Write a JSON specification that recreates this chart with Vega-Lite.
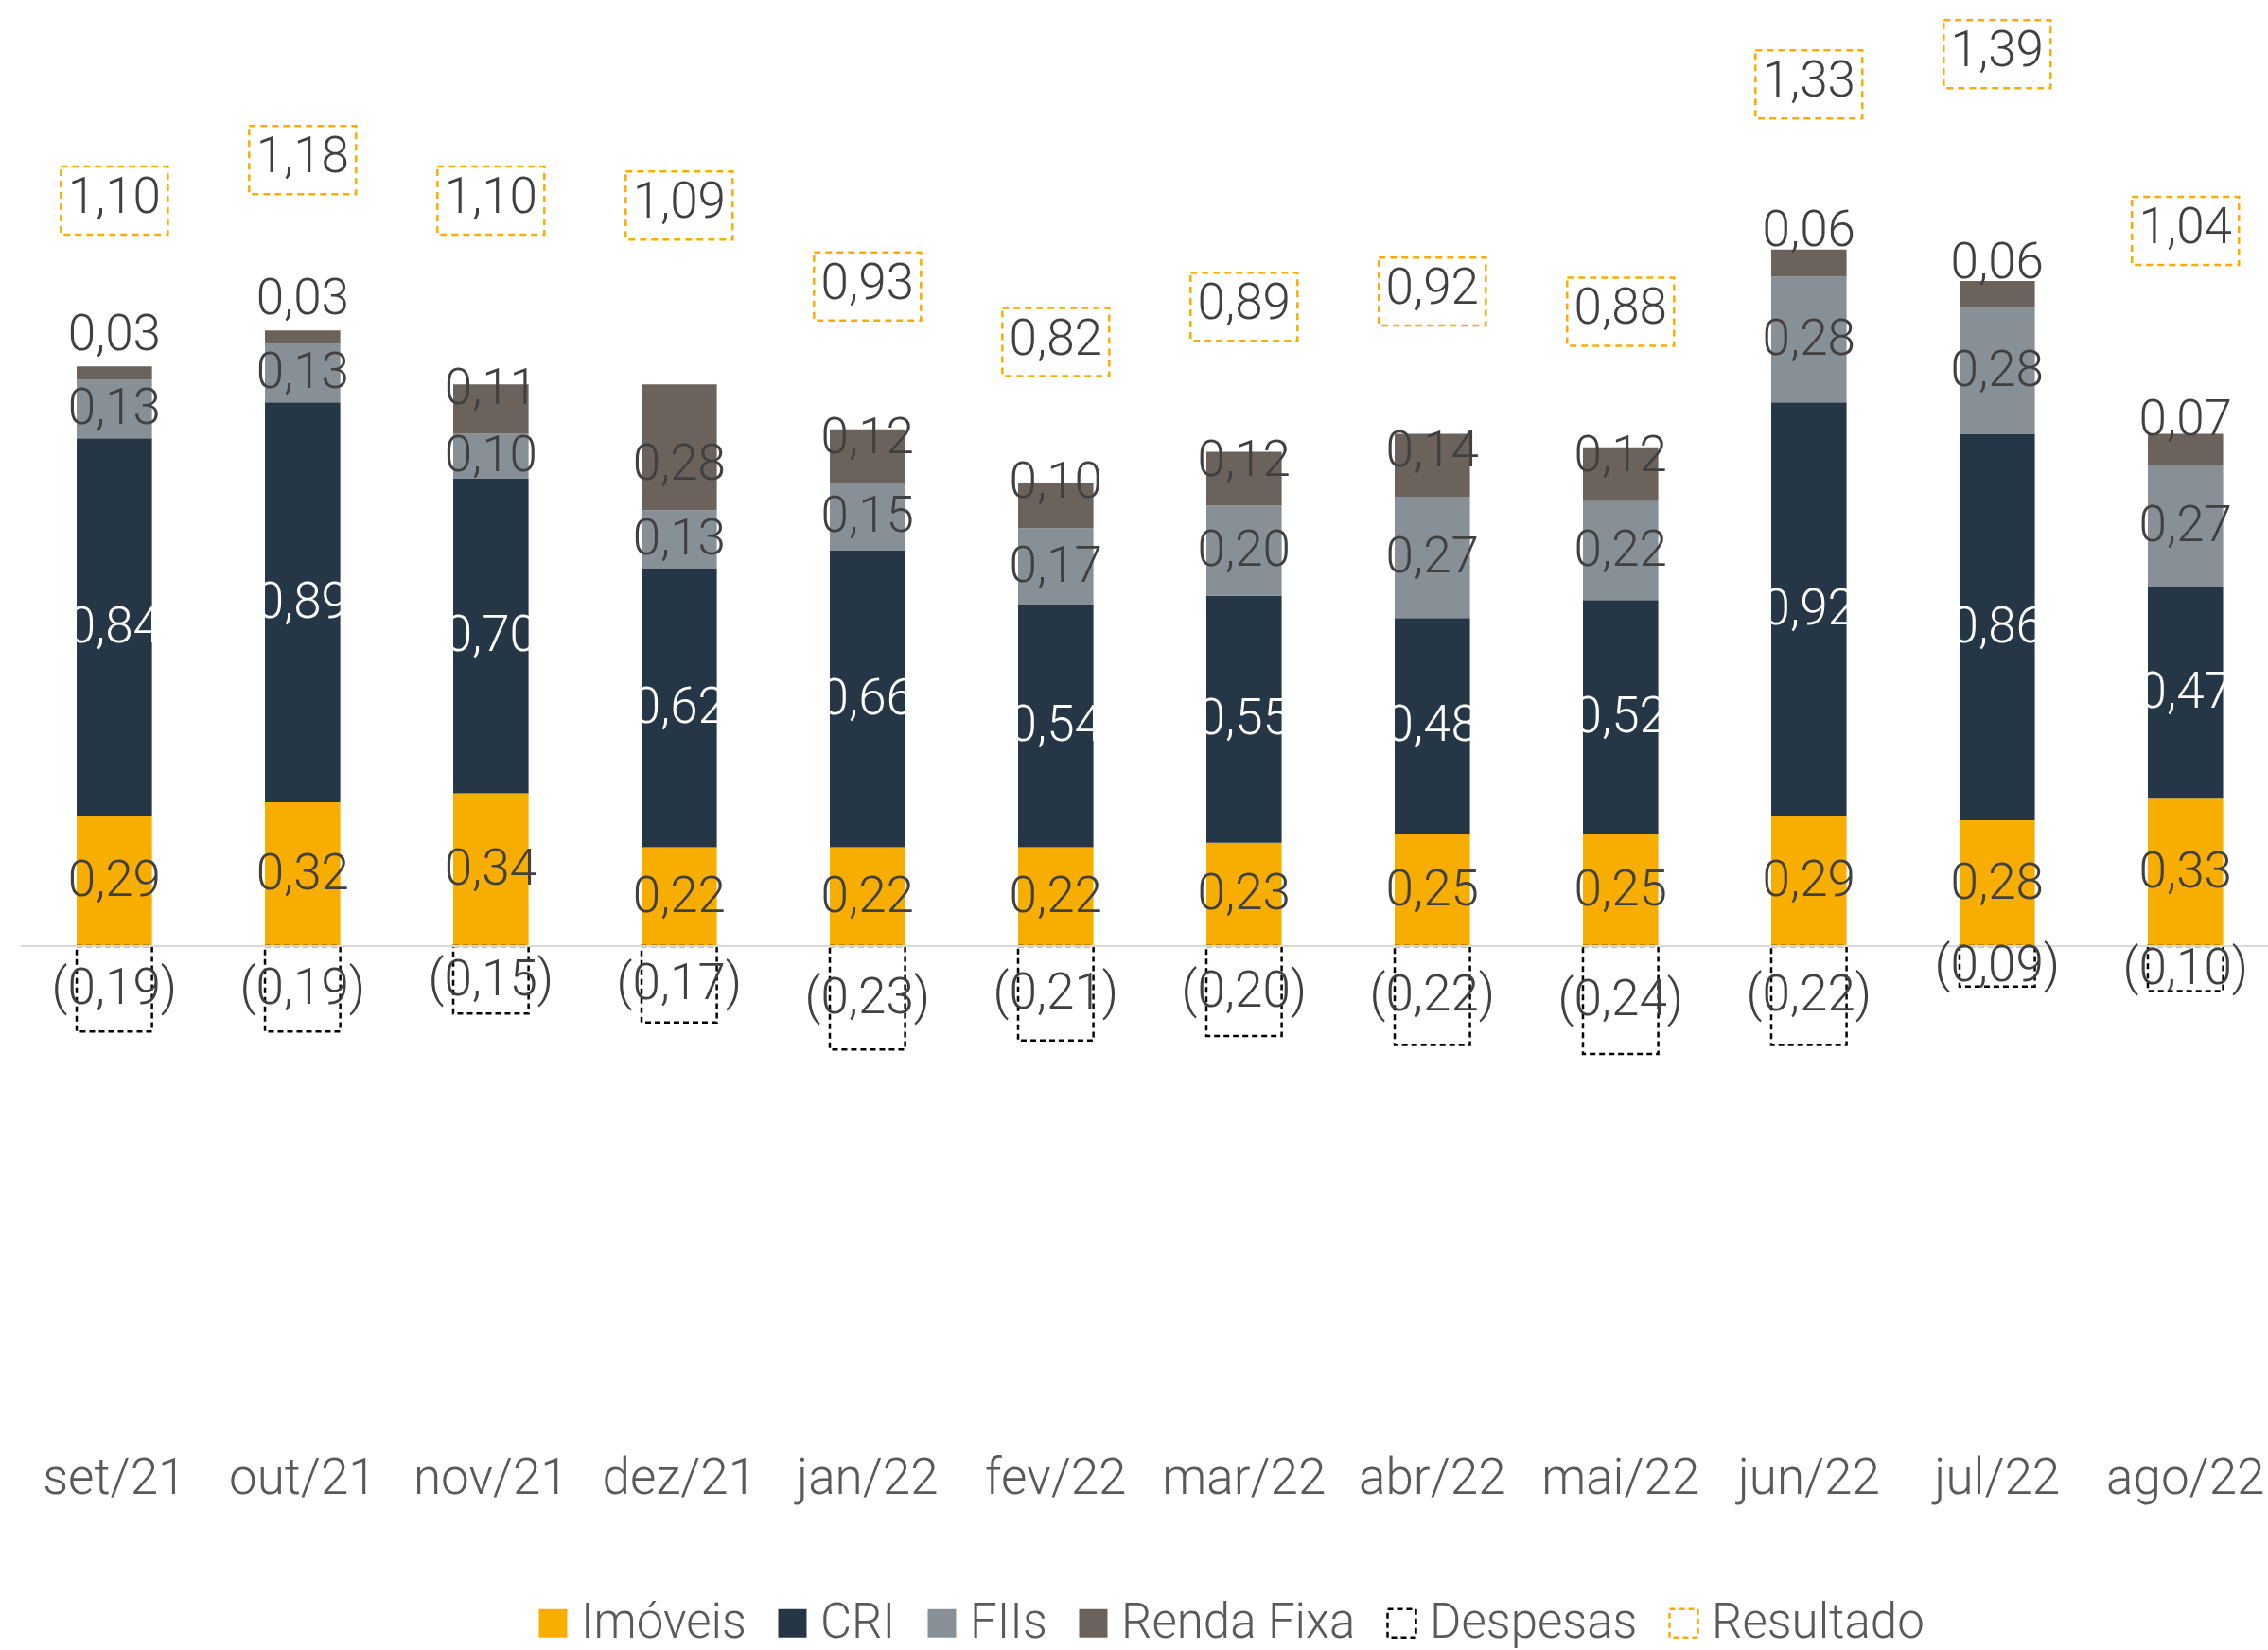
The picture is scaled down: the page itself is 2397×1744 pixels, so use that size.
{
  "$schema": "https://vega.github.io/schema/vega-lite/v6.json",
  "width": 2375,
  "height": 1500,
  "autosize": {"type": "none"},
  "padding": {"left": 22, "top": 0, "right": 0, "bottom": 244},
  "background": "white",
  "config": {
    "view": {"stroke": null},
    "font": "Roboto",
    "locale": {"number": {"decimal": ",", "thousands": ".", "grouping": [3], "currency": ["R$", ""]}}
  },
  "data": {
    "values": [
      {"mes": "set/21", "serie": "Imóveis", "ordem": 1, "valor": 0.29},
      {"mes": "set/21", "serie": "CRI", "ordem": 2, "valor": 0.84},
      {"mes": "set/21", "serie": "FIIs", "ordem": 3, "valor": 0.13},
      {"mes": "set/21", "serie": "Renda Fixa", "ordem": 4, "valor": 0.03},
      {"mes": "set/21", "serie": "Despesas", "ordem": 5, "valor": -0.19},
      {"mes": "set/21", "serie": "Resultado", "ordem": 6, "valor": 1.10},
      {"mes": "out/21", "serie": "Imóveis", "ordem": 1, "valor": 0.32},
      {"mes": "out/21", "serie": "CRI", "ordem": 2, "valor": 0.89},
      {"mes": "out/21", "serie": "FIIs", "ordem": 3, "valor": 0.13},
      {"mes": "out/21", "serie": "Renda Fixa", "ordem": 4, "valor": 0.03},
      {"mes": "out/21", "serie": "Despesas", "ordem": 5, "valor": -0.19},
      {"mes": "out/21", "serie": "Resultado", "ordem": 6, "valor": 1.18},
      {"mes": "nov/21", "serie": "Imóveis", "ordem": 1, "valor": 0.34},
      {"mes": "nov/21", "serie": "CRI", "ordem": 2, "valor": 0.70},
      {"mes": "nov/21", "serie": "FIIs", "ordem": 3, "valor": 0.10},
      {"mes": "nov/21", "serie": "Renda Fixa", "ordem": 4, "valor": 0.11},
      {"mes": "nov/21", "serie": "Despesas", "ordem": 5, "valor": -0.15},
      {"mes": "nov/21", "serie": "Resultado", "ordem": 6, "valor": 1.10},
      {"mes": "dez/21", "serie": "Imóveis", "ordem": 1, "valor": 0.22},
      {"mes": "dez/21", "serie": "CRI", "ordem": 2, "valor": 0.62},
      {"mes": "dez/21", "serie": "FIIs", "ordem": 3, "valor": 0.13},
      {"mes": "dez/21", "serie": "Renda Fixa", "ordem": 4, "valor": 0.28},
      {"mes": "dez/21", "serie": "Despesas", "ordem": 5, "valor": -0.17},
      {"mes": "dez/21", "serie": "Resultado", "ordem": 6, "valor": 1.09},
      {"mes": "jan/22", "serie": "Imóveis", "ordem": 1, "valor": 0.22},
      {"mes": "jan/22", "serie": "CRI", "ordem": 2, "valor": 0.66},
      {"mes": "jan/22", "serie": "FIIs", "ordem": 3, "valor": 0.15},
      {"mes": "jan/22", "serie": "Renda Fixa", "ordem": 4, "valor": 0.12},
      {"mes": "jan/22", "serie": "Despesas", "ordem": 5, "valor": -0.23},
      {"mes": "jan/22", "serie": "Resultado", "ordem": 6, "valor": 0.93},
      {"mes": "fev/22", "serie": "Imóveis", "ordem": 1, "valor": 0.22},
      {"mes": "fev/22", "serie": "CRI", "ordem": 2, "valor": 0.54},
      {"mes": "fev/22", "serie": "FIIs", "ordem": 3, "valor": 0.17},
      {"mes": "fev/22", "serie": "Renda Fixa", "ordem": 4, "valor": 0.10},
      {"mes": "fev/22", "serie": "Despesas", "ordem": 5, "valor": -0.21},
      {"mes": "fev/22", "serie": "Resultado", "ordem": 6, "valor": 0.82},
      {"mes": "mar/22", "serie": "Imóveis", "ordem": 1, "valor": 0.23},
      {"mes": "mar/22", "serie": "CRI", "ordem": 2, "valor": 0.55},
      {"mes": "mar/22", "serie": "FIIs", "ordem": 3, "valor": 0.20},
      {"mes": "mar/22", "serie": "Renda Fixa", "ordem": 4, "valor": 0.12},
      {"mes": "mar/22", "serie": "Despesas", "ordem": 5, "valor": -0.20},
      {"mes": "mar/22", "serie": "Resultado", "ordem": 6, "valor": 0.89},
      {"mes": "abr/22", "serie": "Imóveis", "ordem": 1, "valor": 0.25},
      {"mes": "abr/22", "serie": "CRI", "ordem": 2, "valor": 0.48},
      {"mes": "abr/22", "serie": "FIIs", "ordem": 3, "valor": 0.27},
      {"mes": "abr/22", "serie": "Renda Fixa", "ordem": 4, "valor": 0.14},
      {"mes": "abr/22", "serie": "Despesas", "ordem": 5, "valor": -0.22},
      {"mes": "abr/22", "serie": "Resultado", "ordem": 6, "valor": 0.92},
      {"mes": "mai/22", "serie": "Imóveis", "ordem": 1, "valor": 0.25},
      {"mes": "mai/22", "serie": "CRI", "ordem": 2, "valor": 0.52},
      {"mes": "mai/22", "serie": "FIIs", "ordem": 3, "valor": 0.22},
      {"mes": "mai/22", "serie": "Renda Fixa", "ordem": 4, "valor": 0.12},
      {"mes": "mai/22", "serie": "Despesas", "ordem": 5, "valor": -0.24},
      {"mes": "mai/22", "serie": "Resultado", "ordem": 6, "valor": 0.88},
      {"mes": "jun/22", "serie": "Imóveis", "ordem": 1, "valor": 0.29},
      {"mes": "jun/22", "serie": "CRI", "ordem": 2, "valor": 0.92},
      {"mes": "jun/22", "serie": "FIIs", "ordem": 3, "valor": 0.28},
      {"mes": "jun/22", "serie": "Renda Fixa", "ordem": 4, "valor": 0.06},
      {"mes": "jun/22", "serie": "Despesas", "ordem": 5, "valor": -0.22},
      {"mes": "jun/22", "serie": "Resultado", "ordem": 6, "valor": 1.33},
      {"mes": "jul/22", "serie": "Imóveis", "ordem": 1, "valor": 0.28},
      {"mes": "jul/22", "serie": "CRI", "ordem": 2, "valor": 0.86},
      {"mes": "jul/22", "serie": "FIIs", "ordem": 3, "valor": 0.28},
      {"mes": "jul/22", "serie": "Renda Fixa", "ordem": 4, "valor": 0.06},
      {"mes": "jul/22", "serie": "Despesas", "ordem": 5, "valor": -0.09},
      {"mes": "jul/22", "serie": "Resultado", "ordem": 6, "valor": 1.39},
      {"mes": "ago/22", "serie": "Imóveis", "ordem": 1, "valor": 0.33},
      {"mes": "ago/22", "serie": "CRI", "ordem": 2, "valor": 0.47},
      {"mes": "ago/22", "serie": "FIIs", "ordem": 3, "valor": 0.27},
      {"mes": "ago/22", "serie": "Renda Fixa", "ordem": 4, "valor": 0.07},
      {"mes": "ago/22", "serie": "Despesas", "ordem": 5, "valor": -0.10},
      {"mes": "ago/22", "serie": "Resultado", "ordem": 6, "valor": 1.04}
    ]
  },
  "encoding": {
    "x": {
      "field": "mes",
      "type": "nominal",
      "sort": ["set/21", "out/21", "nov/21", "dez/21", "jan/22", "fev/22", "mar/22", "abr/22", "mai/22", "jun/22", "jul/22", "ago/22"],
      "scale": {"paddingInner": 0.6, "paddingOuter": 0.2675, "align": 0.5545},
      "axis": {
        "title": null, "domain": false, "ticks": false, "tickSize": 0, "grid": false,
        "labelAngle": 0, "labelPadding": 78, "labelBaseline": "alphabetic",
        "labelFont": "Roboto", "labelFontSize": 53, "labelFontWeight": 300, "labelColor": "#595959"
      }
    }
  },
  "layer": [
    {
      "layer": [
        {
          "transform": [{"filter": "datum.serie != 'Resultado'"}],
          "mark": {"type": "bar", "strokeWidth": 2.5},
          "encoding": {
            "y": {"field": "valor", "type": "quantitative", "stack": "zero", "scale": {"domain": [-1.0526, 2.1053], "nice": false, "zero": false}, "axis": null},
            "fill": {
              "field": "serie", "type": "nominal",
              "scale": {"domain": ["Imóveis", "CRI", "FIIs", "Renda Fixa", "Despesas", "Resultado"], "range": ["#F8AE00", "#253746", "#878F97", "#6B625B", "transparent", "transparent"]},
              "legend": {"title": null, "orient": "none", "legendX": 537, "legendY": 1690, "direction": "horizontal", "symbolType": "square", "symbolSize": 900, "symbolStrokeWidth": 2.5, "labelFont": "Roboto", "labelFontSize": 51, "labelFontWeight": 300, "labelColor": "#595959", "columnPadding": 23, "labelOffset": 4, "padding": 0, "labelLimit": 0}
            },
            "stroke": {
              "field": "serie", "type": "nominal",
              "scale": {"domain": ["Imóveis", "CRI", "FIIs", "Renda Fixa", "Despesas", "Resultado"], "range": ["transparent", "transparent", "transparent", "transparent", "#000000", "#F8AE00"]},
              "legend": {"title": null, "orient": "none", "legendX": 537, "legendY": 1690, "direction": "horizontal", "symbolType": "square", "symbolSize": 900, "symbolStrokeWidth": 2.5, "labelFont": "Roboto", "labelFontSize": 51, "labelFontWeight": 300, "labelColor": "#595959", "columnPadding": 23, "labelOffset": 4, "padding": 0, "labelLimit": 0}
            },
            "strokeDash": {
              "field": "serie", "type": "nominal",
              "scale": {"domain": ["Imóveis", "CRI", "FIIs", "Renda Fixa", "Despesas", "Resultado"], "range": [[1, 0], [1, 0], [1, 0], [1, 0], [6, 4], [6, 4]]},
              "legend": {"title": null, "orient": "none", "legendX": 537, "legendY": 1690, "direction": "horizontal", "symbolType": "square", "symbolSize": 900, "symbolStrokeWidth": 2.5, "labelFont": "Roboto", "labelFontSize": 51, "labelFontWeight": 300, "labelColor": "#595959", "columnPadding": 23, "labelOffset": 4, "padding": 0, "labelLimit": 0}
            },
            "order": {"field": "ordem", "type": "quantitative"}
          }
        },
        {
          "mark": {"type": "rule", "color": "#D9D9D9", "strokeWidth": 2},
          "encoding": {
            "x": null,
            "y": {"datum": 0, "type": "quantitative", "scale": {"domain": [-1.0526, 2.1053], "nice": false, "zero": false}}
          }
        },
        {
          "transform": [{"filter": "datum.serie != 'Resultado'"}],
          "mark": {"type": "text", "font": "Roboto", "fontSize": 53, "fontWeight": 300, "baseline": "middle", "align": "center"},
          "encoding": {
            "y": {"field": "valor", "type": "quantitative", "stack": "zero", "bandPosition": 0.5, "scale": {"domain": [-1.0526, 2.1053], "nice": false, "zero": false}},
            "detail": {"field": "serie", "type": "nominal"},
            "order": {"field": "ordem", "type": "quantitative"},
            "text": {"condition": {"test": "datum.serie != 'Renda Fixa'", "field": "valor", "type": "quantitative", "format": "(.2f"}, "value": ""},
            "color": {"condition": {"test": "datum.serie == 'CRI'", "value": "#FFFFFF"}, "value": "#404040"}
          }
        },
        {
          "transform": [{"filter": "datum.serie != 'Resultado'"}],
          "mark": {"type": "text", "font": "Roboto", "fontSize": 53, "fontWeight": 300, "baseline": "middle", "align": "center", "dy": -48, "color": "#404040"},
          "encoding": {
            "y": {"field": "valor", "type": "quantitative", "stack": "zero", "bandPosition": 0, "scale": {"domain": [-1.0526, 2.1053], "nice": false, "zero": false}},
            "detail": {"field": "serie", "type": "nominal"},
            "order": {"field": "ordem", "type": "quantitative"},
            "text": {"condition": {"test": "datum.serie == 'Renda Fixa'", "field": "valor", "type": "quantitative", "format": ".2f"}, "value": ""}
          }
        }
      ]
    },
    {
      "transform": [{"filter": "datum.serie == 'Resultado'"}],
      "layer": [
        {
          "mark": {"type": "point", "shape": "M-1,-0.637L1,-0.637L1,0.637L-1,0.637Z", "size": 12769, "filled": false, "stroke": "#F8AE00", "strokeWidth": 2.5, "strokeDash": [7, 5], "opacity": 1},
          "encoding": {
            "y": {"field": "valor", "type": "quantitative", "scale": {"domain": [-1.312, 1.497], "nice": false, "zero": false}, "axis": null}
          }
        },
        {
          "mark": {"type": "text", "font": "Roboto", "fontSize": 53, "fontWeight": 300, "baseline": "middle", "align": "center", "dy": -3, "color": "#404040"},
          "encoding": {
            "y": {"field": "valor", "type": "quantitative", "scale": {"domain": [-1.312, 1.497], "nice": false, "zero": false}, "axis": null},
            "text": {"field": "valor", "type": "quantitative", "format": ".2f"}
          }
        }
      ]
    }
  ],
  "resolve": {"scale": {"y": "independent"}}
}
